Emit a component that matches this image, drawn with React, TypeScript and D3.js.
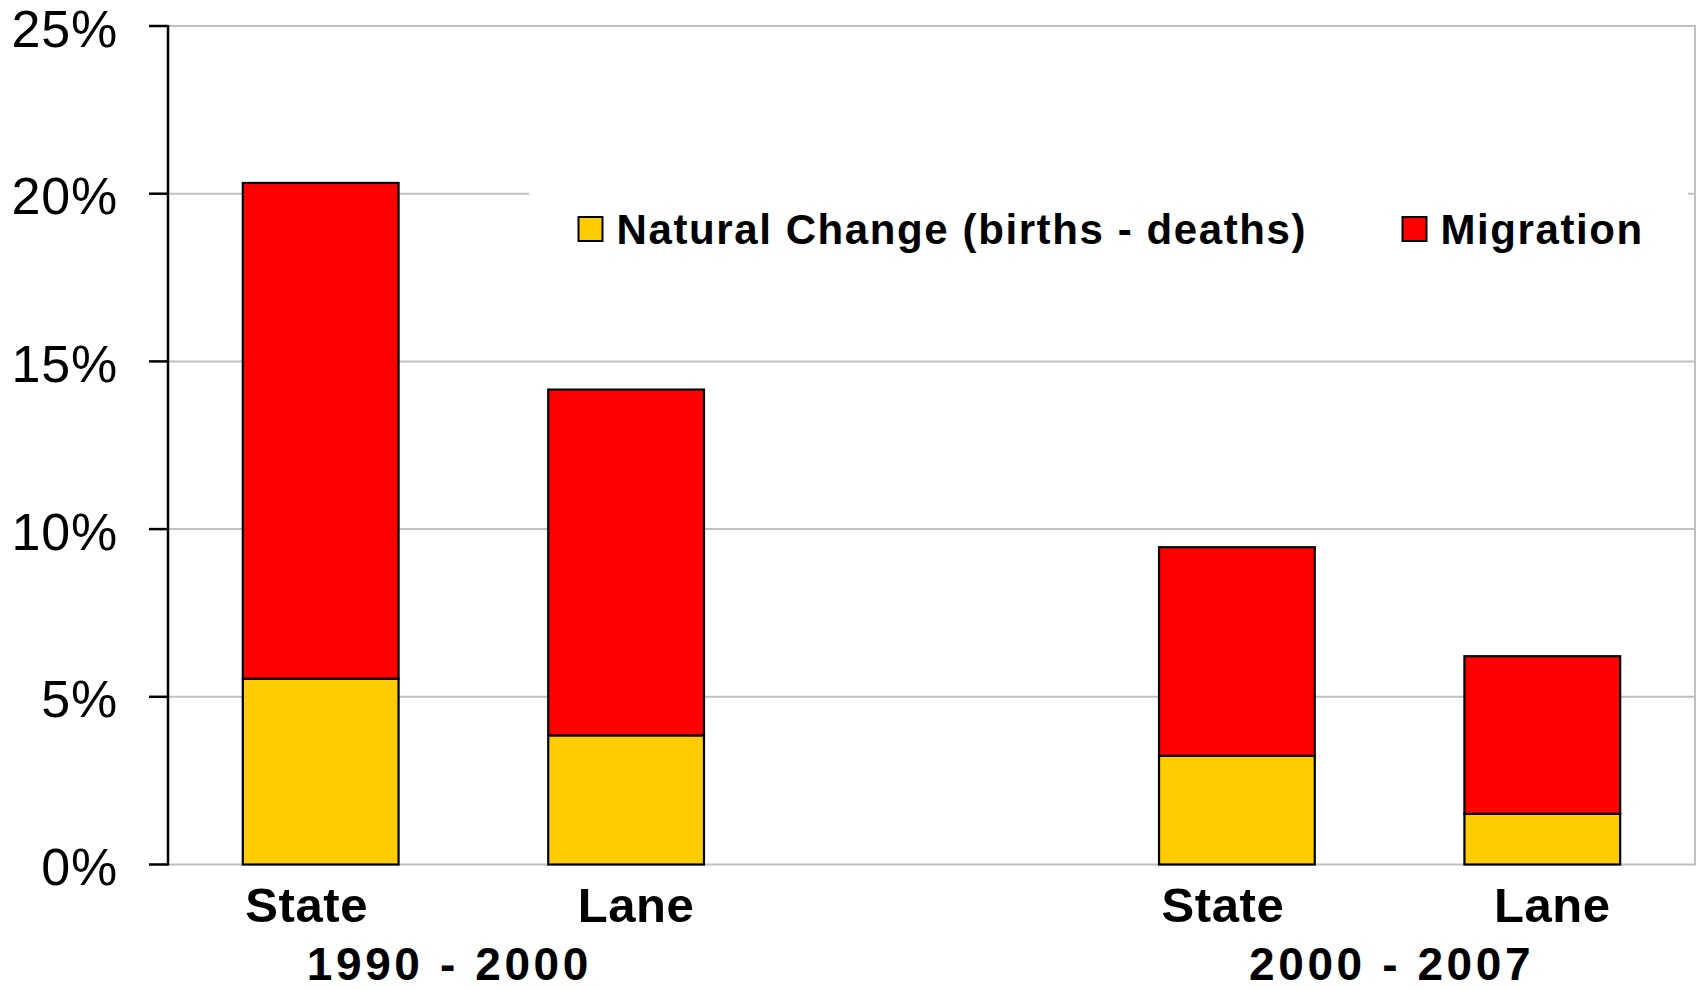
import React, { useEffect } from "react";
import * as d3 from "d3";

// ---- data ----
const categories = ["State", "Lane", "", "State", "Lane"];
const naturalChange = [5.54, 3.85, null, 3.24, 1.51];
const migration = [14.78, 10.31, null, 6.22, 4.70];
const groups = ["1990 - 2000", "2000 - 2007"];
const groupMembers = [[0, 1], [3, 4]];
const yTicks = [0, 5, 10, 15, 20, 25];
const seriesNames = ["Natural Change (births - deaths)", "Migration"];
const seriesColors = ["#FFCC00", "#FF0000"];

const W = 1700;
const H = 990;
const M = { left: 168, right: 1695, top: 26, bottom: 864.5 };

export default function App() {
  useEffect(() => {
    document.body.style.margin = "0";
  }, []);

  const x = d3
    .scaleBand<number>()
    .domain(d3.range(categories.length))
    .range([M.left, M.right])
    .paddingInner(0)
    .paddingOuter(0);
  const y = d3.scaleLinear().domain([0, 25]).range([M.bottom, M.top]);
  const barW = x.bandwidth() * 0.51;

  const stackData = categories.map((c, i) => ({
    i,
    natural: naturalChange[i],
    migration: migration[i],
  }));
  const stack = d3.stack<any>().keys(["natural", "migration"]).value((d, k) => (d[k] ?? 0));
  const layers = stack(stackData.filter((d) => d.natural !== null));

  const tickFont = "'Liberation Sans', Arial, sans-serif";
  const labelOffset = (c: string) => (c === "State" ? -14 : 10);
  const groupOffset = [-24, 2];

  return (
    <svg
      width={W}
      height={H}
      style={{ position: "absolute", left: 0, top: 0, background: "#fff" }}
    >
      {/* gridlines */}
      {yTicks.map((t) => (
        <line
          key={"g" + t}
          x1={M.left}
          x2={M.right}
          y1={y(t)}
          y2={y(t)}
          stroke="#C0C0C0"
          strokeWidth={2}
        />
      ))}
      {/* right border */}
      <line x1={M.right} x2={M.right} y1={M.top - 1} y2={M.bottom + 1} stroke="#C0C0C0" strokeWidth={2} />

      {/* bars */}
      {layers.map((layer, li) =>
        layer.map((d: any) => {
          const idx = d.data.i;
          const cx = (x(idx) as number) + x.bandwidth() / 2;
          return (
            <rect
              key={li + "-" + idx}
              x={cx - barW / 2}
              y={y(d[1])}
              width={barW}
              height={y(d[0]) - y(d[1])}
              fill={seriesColors[li]}
              stroke="#000"
              strokeWidth={2.2}
            />
          );
        })
      )}

      {/* y axis */}
      <line x1={M.left} x2={M.left} y1={M.top - 1} y2={M.bottom + 1} stroke="#000" strokeWidth={2.5} />
      {yTicks.map((t) => (
        <g key={"t" + t}>
          <line x1={149} x2={M.left} y1={y(t)} y2={y(t)} stroke="#000" strokeWidth={2.5} />
          <text
            x={118}
            y={y(t) + 20.5}
            textAnchor="end"
            fontFamily={tickFont}
            fontSize={52}
            letterSpacing={0.8}
            fill="#000"
          >
            {t + "%"}
          </text>
        </g>
      ))}

      {/* category labels */}
      {categories.map((c, i) =>
        c ? (
          <text
            key={"c" + i}
            x={(x(i) as number) + x.bandwidth() / 2 + labelOffset(c)}
            y={921.5}
            textAnchor="middle"
            fontFamily={tickFont}
            fontWeight="bold"
            fontSize={49}
            letterSpacing={0.6}
            fill="#000"
          >
            {c}
          </text>
        ) : null
      )}

      {/* group labels */}
      {groups.map((g, gi) => {
        const cx = d3.mean(groupMembers[gi].map((i) => (x(i) as number) + x.bandwidth() / 2)) as number;
        return (
          <text
            key={"grp" + gi}
            x={cx + groupOffset[gi]}
            y={980}
            textAnchor="middle"
            fontFamily={tickFont}
            fontWeight="bold"
            fontSize={46}
            letterSpacing={3.6}
            fill="#000"
          >
            {g}
          </text>
        );
      })}

      {/* legend */}
      <rect x={529} y={172} width={1159} height={90} fill="#fff" />
      {seriesNames.map((s, si) => {
        const sx = si === 0 ? 578.5 : 1402.5;
        return (
          <g key={"l" + si}>
            <rect x={sx} y={217} width={24} height={24} fill={seriesColors[si]} stroke="#000" strokeWidth={2} />
            <text
              x={sx + 38}
              y={243.5}
              fontFamily={tickFont}
              fontWeight="bold"
              fontSize={42}
              letterSpacing={1.6}
              fill="#000"
            >
              {s}
            </text>
          </g>
        );
      })}
    </svg>
  );
}
